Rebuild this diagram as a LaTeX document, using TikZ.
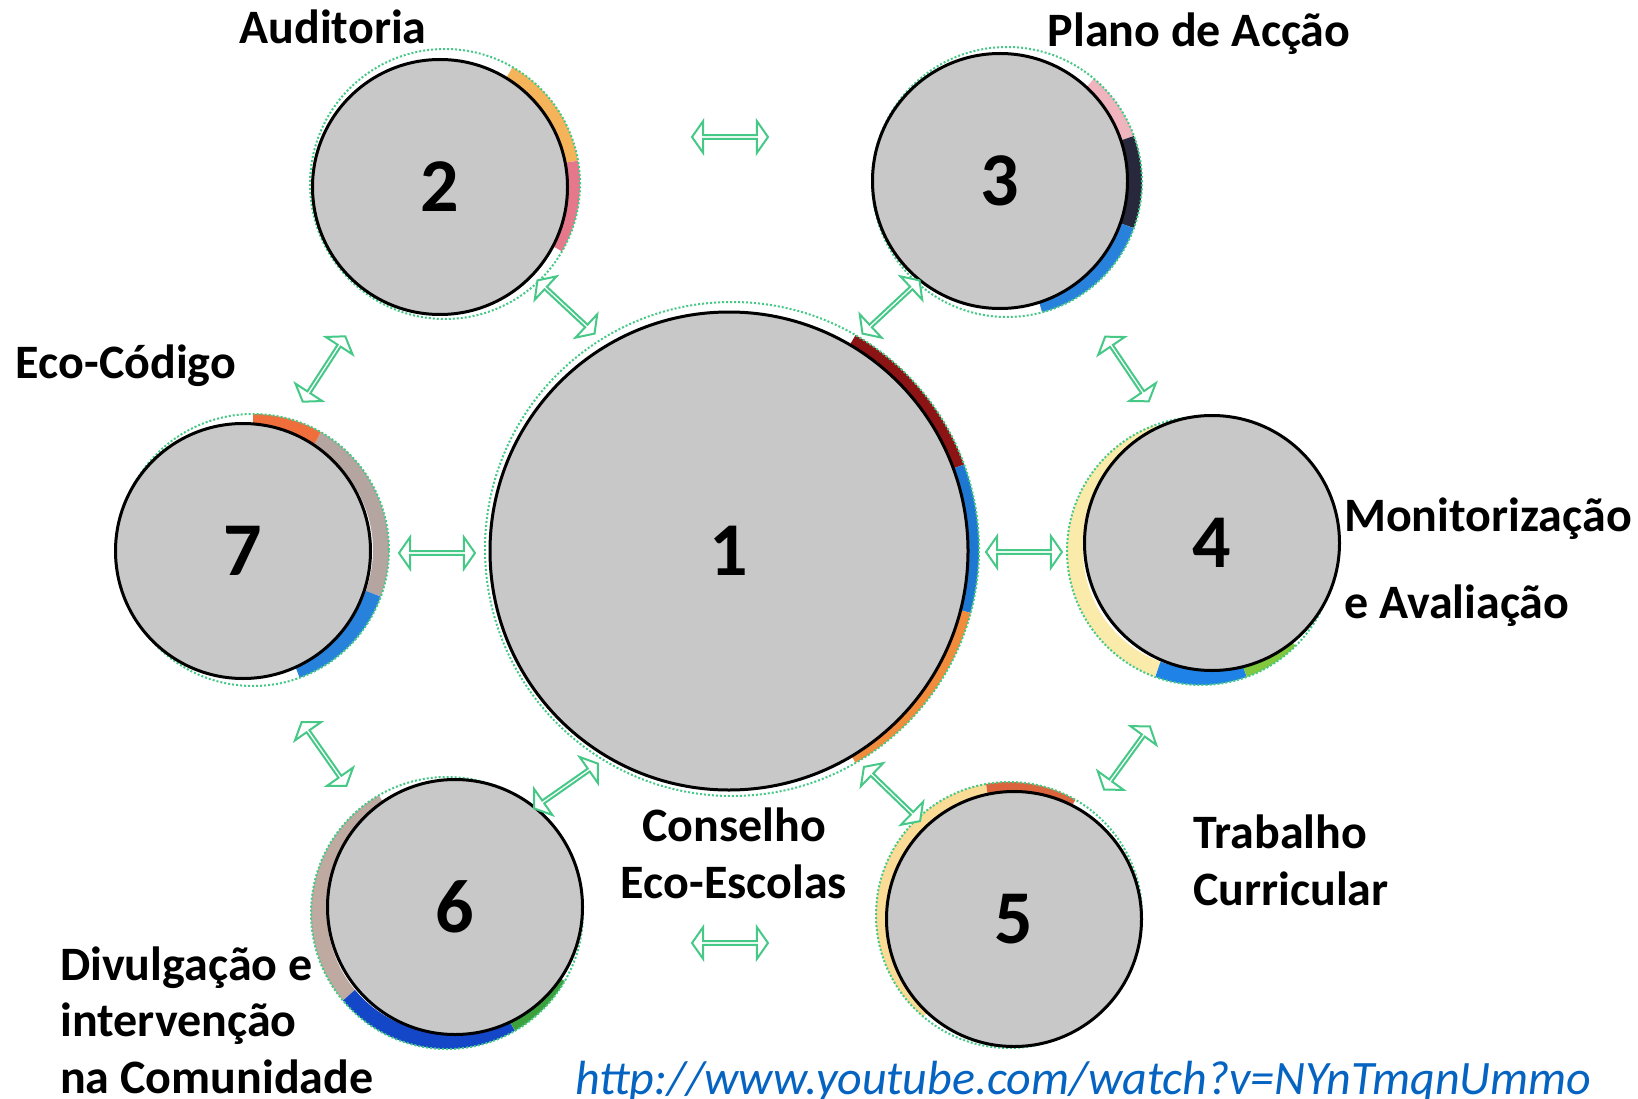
\documentclass[tikz,border=0pt]{standalone}
\usepackage{fontspec}
\setmainfont{Carlito}
\usetikzlibrary{shapes.arrows}
\definecolor{cfill}{RGB}{200,200,200}
\definecolor{agreen}{RGB}{70,200,135}
\definecolor{urlblue}{RGB}{5,99,193}
\begin{document}
\begin{tikzpicture}[x=1pt,y=-1pt,
  num/.style={circle, draw=black, line width=3pt, fill=cfill, minimum size=255pt, inner sep=0pt, font=\fontsize{76}{80}\selectfont\bfseries},
  lbl/.style={font=\fontsize{48}{56}\selectfont\bfseries, inner sep=0pt},
  darr/.style={double arrow, draw=agreen, fill=white, line width=2pt, minimum height=76pt, minimum width=32pt, double arrow head extend=8pt, double arrow tip angle=110, inner sep=0pt},
  fringe/.style={draw=agreen, line width=2pt, dotted},
  arcw/.style={line width=16pt}]
\useasboundingbox (0,0) rectangle (1638,1099);
% fringe centres
\coordinate (f1) at (732,549);
\coordinate (f2) at (445,184);
\coordinate (f3) at (1007,182);
\coordinate (f4) at (1201,551);
\coordinate (f5) at (1009,915);
\coordinate (f6) at (447,913);
\coordinate (f7) at (253,550);
% coloured crescents
\draw[arcw, draw={rgb,255:red,140;green,20;blue,20}] ([shift={(20:239pt)}]f1) arc[start angle=20, end angle=60, radius=239pt];
\draw[arcw, draw={rgb,255:red,30;green,120;blue,210}] ([shift={(-15:239pt)}]f1) arc[start angle=-15, end angle=20, radius=239pt];
\draw[arcw, draw={rgb,255:red,240;green,140;blue,60}] ([shift={(-60:239pt)}]f1) arc[start angle=-60, end angle=-15, radius=239pt];
\draw[arcw, draw={rgb,255:red,245;green,180;blue,90}] ([shift={(10:127pt)}]f2) arc[start angle=10, end angle=60, radius=127pt];
\draw[arcw, draw={rgb,255:red,230;green,120;blue,140}] ([shift={(-30:127pt)}]f2) arc[start angle=-30, end angle=10, radius=127pt];
\draw[arcw, draw={rgb,255:red,240;green,180;blue,190}] ([shift={(20:127pt)}]f3) arc[start angle=20, end angle=50, radius=127pt];
\draw[arcw, draw={rgb,255:red,40;green,40;blue,60}] ([shift={(-20:127pt)}]f3) arc[start angle=-20, end angle=20, radius=127pt];
\draw[arcw, draw={rgb,255:red,40;green,130;blue,220}] ([shift={(-75:127pt)}]f3) arc[start angle=-75, end angle=-20, radius=127pt];
\draw[arcw, draw={rgb,255:red,250;green,235;blue,170}] ([shift={(110:126pt)}]f4) arc[start angle=110, end angle=250, radius=126pt];
\draw[arcw, draw={rgb,255:red,30;green,130;blue,230}] ([shift={(250:126pt)}]f4) arc[start angle=250, end angle=290, radius=126pt];
\draw[arcw, draw={rgb,255:red,130;green,200;blue,60}] ([shift={(290:126pt)}]f4) arc[start angle=290, end angle=315, radius=126pt];
\draw[arcw, draw={rgb,255:red,250;green,220;blue,150}] ([shift={(100:125pt)}]f5) arc[start angle=100, end angle=230, radius=125pt];
\draw[arcw, draw={rgb,255:red,220;green,100;blue,60}] ([shift={(60:125pt)}]f5) arc[start angle=60, end angle=100, radius=125pt];
\draw[arcw, draw={rgb,255:red,190;green,170;blue,160}] ([shift={(120:128pt)}]f6) arc[start angle=120, end angle=220, radius=128pt];
\draw[arcw, draw={rgb,255:red,20;green,70;blue,200}] ([shift={(220:128pt)}]f6) arc[start angle=220, end angle=300, radius=128pt];
\draw[arcw, draw={rgb,255:red,60;green,160;blue,60}] ([shift={(300:128pt)}]f6) arc[start angle=300, end angle=330, radius=128pt];
\draw[arcw, draw={rgb,255:red,180;green,165;blue,160}] ([shift={(-20:128pt)}]f7) arc[start angle=-20, end angle=60, radius=128pt];
\draw[arcw, draw={rgb,255:red,240;green,110;blue,60}] ([shift={(60:128pt)}]f7) arc[start angle=60, end angle=90, radius=128pt];
\draw[arcw, draw={rgb,255:red,40;green,130;blue,220}] ([shift={(-70:128pt)}]f7) arc[start angle=-70, end angle=-20, radius=128pt];
% dotted outlines
\draw[fringe] (f1) circle[radius=247pt];
\draw[fringe] (f2) circle[radius=135pt];
\draw[fringe] (f3) circle[radius=135pt];
\draw[fringe] (f4) circle[radius=134pt];
\draw[fringe] (f5) circle[radius=133pt];
\draw[fringe] (f6) circle[radius=136pt];
\draw[fringe] (f7) circle[radius=136pt];
% circles
\node[num, minimum size=478pt] (c1) at (729,551) {1};
\node[num] (c2) at (440,187) {2};
\node[num] (c3) at (1000,181) {3};
\node[num] (c4) at (1212,543) {4};
\node[num] (c5) at (1014,919) {5};
\node[num] (c6) at (455,907) {6};
\node[num] (c7) at (243,551) {7};
% double arrows
\node[darr] (a23) at (730,137) {};
\node[darr] (a56) at (730,943) {};
\node[darr] (a17) at (437,553) {};
\node[darr] (a14) at (1024,552) {};
\node[darr, minimum height=78pt, rotate=-43] (a12) at (566,307) {};
\node[darr, minimum height=78pt, rotate=43] (a13) at (891,307) {};
\node[darr, minimum height=78pt, rotate=35] (a16) at (566,786) {};
\node[darr, minimum height=78pt, rotate=-44] (a15) at (892,794) {};
\node[darr, minimum height=78pt, rotate=57] (a27) at (324,369) {};
\node[darr, minimum height=78pt, rotate=-56] (a34) at (1127,369) {};
\node[darr, minimum height=78pt, rotate=-55] (a67) at (324,754) {};
\node[darr, minimum height=78pt, rotate=54] (a45) at (1127,758) {};
% labels
\node[lbl, anchor=base] (t2) at (333,44) {Auditoria};
\node[lbl, anchor=base] (t3) at (1199,47) {Plano de Acção};
\node[lbl, anchor=base] (t7) at (126,378) {Eco-Código};
\node[lbl, anchor=base west] (t4a) at (1344,531) {Monitorização};
\node[lbl, anchor=base west] (t4b) at (1344,618) {e Avaliação};
\node[lbl, anchor=base west] (t5a) at (1193,848) {Trabalho};
\node[lbl, anchor=base west] (t5b) at (1193,905) {Curricular};
\node[lbl, anchor=base] (t1a) at (734,841) {Conselho};
\node[lbl, anchor=base] (t1b) at (734,898) {Eco-Escolas};
\node[lbl, anchor=base west] (t6a) at (60,980) {Divulgação e};
\node[lbl, anchor=base west] (t6b) at (60,1036) {intervenção};
\node[lbl, anchor=base west] (t6c) at (60,1093) {na Comunidade};
\node[font=\fontsize{48}{56}\selectfont\itshape, text=urlblue, anchor=base west, inner sep=0pt] (url) at (575,1094) {http://www.youtube.com/watch?v=NYnTmqnUmmo};
\end{tikzpicture}
\end{document}
